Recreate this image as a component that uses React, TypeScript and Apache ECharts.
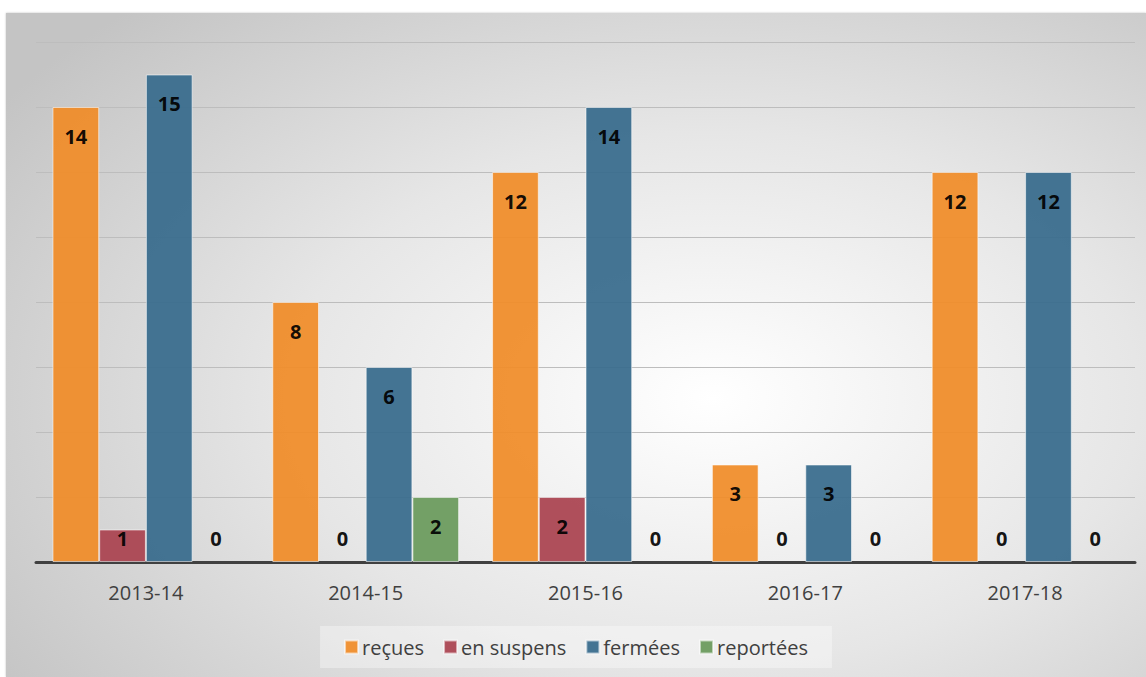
import React, { useEffect, useRef } from "react";
import * as echarts from "echarts";

const categories = ["2013-14", "2014-15", "2015-16", "2016-17", "2017-18"];
const recues = [14, 8, 12, 3, 12];
const enSuspens = [1, 0, 2, 0, 0];
const fermees = [15, 6, 14, 3, 12];
const reportees = [0, 2, 0, 0, 0];

const seriesDefs = [
  { name: "reçues", data: recues, color: "#F08C28" },
  { name: "en suspens", data: enSuspens, color: "#AA4350" },
  { name: "fermées", data: fermees, color: "#376B8C" },
  { name: "reportées", data: reportees, color: "#699A5B" },
];

const FONT = "'Open Sans', 'Noto Sans', sans-serif";

export default function App() {
  const ref = useRef<HTMLDivElement>(null);
  useEffect(() => {
    if (!ref.current) return;
    const chart = echarts.init(ref.current, null, { renderer: "svg" });
    chart.setOption({
      animation: false,
      backgroundColor: "transparent",
      textStyle: { fontFamily: FONT },
      grid: { left: 30, right: 11, top: 29, bottom: 115, containLabel: false },
      legend: {
        bottom: 9,
        left: "center",
        itemWidth: 13,
        itemHeight: 13,
        itemGap: 19,
        icon: "rect",
        padding: [11, 24, 11, 24],
        backgroundColor: "rgba(255,255,255,0.35)",
        textStyle: { fontFamily: FONT, fontSize: 20, color: "#404040", padding: [0, 0, 0, -1] },
        data: seriesDefs.map((s) => s.name),
      },
      xAxis: {
        type: "category",
        data: categories,
        axisLine: { show: true, lineStyle: { color: "#404040", width: 3 } },
        axisTick: { show: false },
        axisLabel: { fontFamily: FONT, fontSize: 20, color: "#404040", margin: 20 },
      },
      yAxis: {
        type: "value",
        min: 0,
        max: 16,
        interval: 2,
        axisLabel: { show: false },
        axisLine: { show: false },
        axisTick: { show: false },
        splitLine: { lineStyle: { color: "#bdbdbd", width: 1 } },
      },
      series: seriesDefs.map((s) => ({
        name: s.name,
        type: "bar",
        barGap: "0%",
        barCategoryGap: "15%",
        itemStyle: {
          color: s.color,
          opacity: 0.93,
          borderColor: "rgba(255,255,255,0.6)",
          borderWidth: 1,
        },
        label: {
          show: true,
          position: "insideTop",
          distance: 19,
          fontFamily: FONT,
          fontSize: 20,
          fontWeight: "bold",
          color: "#000",
        },
        data: s.data.map((v) =>
          v === 0
            ? {
                value: v,
                itemStyle: { borderWidth: 0 },
                label: { position: "insideBottom", distance: 14 },
              }
            : v < 2
            ? { value: v, label: { position: "insideBottom", distance: 14 } }
            : { value: v }
        ),
      })),
    });
    return () => chart.dispose();
  }, []);
  return (
    <div
      style={{
        position: "fixed",
        left: 0,
        top: 0,
        width: 1146,
        height: 677,
        background: "#fff",
      }}
    >
      <div
        style={{
          position: "absolute",
          left: 6,
          top: 13,
          width: 1140,
          height: 664,
          background:
            "radial-gradient(ellipse 75% 80% at 62% 58%, #ffffff 0%, #e6e6e6 50%, #c4c4c4 100%)",
          boxShadow: "0 0 2px rgba(0,0,0,0.25)",
        }}
      >
        <div ref={ref} style={{ width: 1140, height: 664 }} />
      </div>
    </div>
  );
}
